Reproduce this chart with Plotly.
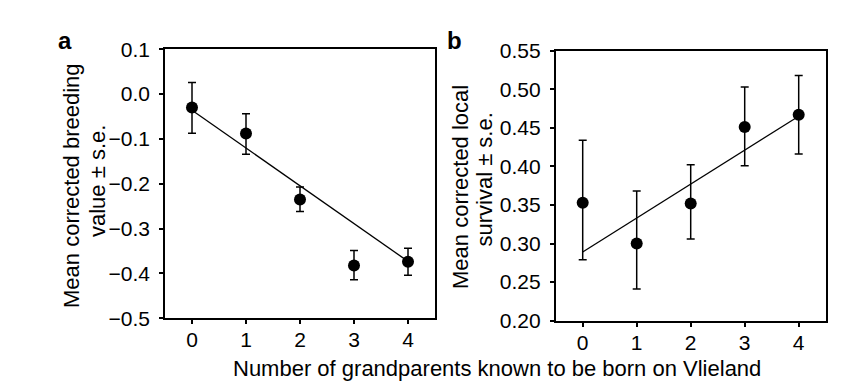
import plotly.graph_objects as go

# ---- data ----
grandparents = [0, 1, 2, 3, 4]
tick_vals_x = [0, 1, 2, 3, 4]

breeding_mean = [-0.030, -0.088, -0.235, -0.382, -0.374]
breeding_upper = [0.026, -0.044, -0.207, -0.349, -0.344]
breeding_lower = [-0.087, -0.134, -0.262, -0.414, -0.404]
breeding_fit_x = [0, 4]
breeding_fit_y = [-0.036, -0.373]
breeding_ticks = [0.1, 0.0, -0.1, -0.2, -0.3, -0.4, -0.5]

survival_mean = [0.353, 0.300, 0.352, 0.451, 0.467]
survival_upper = [0.434, 0.368, 0.402, 0.503, 0.518]
survival_lower = [0.279, 0.241, 0.306, 0.401, 0.416]
survival_fit_x = [0, 4]
survival_fit_y = [0.289, 0.465]
survival_ticks = [0.20, 0.25, 0.30, 0.35, 0.40, 0.45, 0.50, 0.55]

FONT = "Liberation Sans, Arial, Helvetica, sans-serif"
W, H = 846, 387

fig = go.Figure()

def add_panel(xa, ya, mean, up, lo, fx, fy):
    fig.add_trace(go.Scatter(x=fx, y=fy, mode="lines",
                             line=dict(color="black", width=1.3),
                             xaxis=xa, yaxis=ya, showlegend=False, hoverinfo="skip"))
    plus = [u - m for u, m in zip(up, mean)]
    minus = [m - l for m, l in zip(mean, lo)]
    fig.add_trace(go.Scatter(x=grandparents, y=mean, mode="markers",
                             marker=dict(color="black", size=12),
                             error_y=dict(type="data", array=plus, arrayminus=minus,
                                          symmetric=False, color="black",
                                          thickness=1.5, width=4),
                             xaxis=xa, yaxis=ya, showlegend=False))

add_panel("x", "y", breeding_mean, breeding_upper, breeding_lower, breeding_fit_x, breeding_fit_y)
add_panel("x2", "y2", survival_mean, survival_upper, survival_lower, survival_fit_x, survival_fit_y)

axis_common = dict(showline=True, mirror=True, linecolor="black", linewidth=1.6,
                   ticks="outside", ticklen=4, tickwidth=1.5, tickcolor="black",
                   showgrid=False, zeroline=False, automargin=False,
                   tickfont=dict(family=FONT, size=21, color="black"))

fig.update_layout(
    template="none",
    width=W, height=H, autosize=False,
    margin=dict(l=0, r=0, t=0, b=0, pad=0, autoexpand=False),
    paper_bgcolor="white", plot_bgcolor="white",
    showlegend=False,
    font=dict(family=FONT, color="black"),
    xaxis=dict(domain=[165 / W, 435 / W], range=[-0.5, 4.5], tickvals=tick_vals_x,
               anchor="y", ticklabelstandoff=-2, **axis_common),
    yaxis=dict(domain=[1 - 318.3 / H, 1 - 49.3 / H], range=[-0.5, 0.1],
               tickvals=breeding_ticks, tickformat=".1f", anchor="x",
               ticklabelstandoff=5, **axis_common),
    xaxis2=dict(domain=[555.7 / W, 825.7 / W], range=[-0.5, 4.5], tickvals=tick_vals_x,
                anchor="y2", ticklabelstandoff=-2, **axis_common),
    yaxis2=dict(domain=[1 - 320.7 / H, 1 - 50.7 / H], range=[0.20, 0.55],
                tickvals=survival_ticks, tickformat=".2f", anchor="x2",
                ticklabelstandoff=5, **axis_common),
)

ann = [
    dict(text="<b>a</b>", x=65, y=40, size=24),
    dict(text="<b>b</b>", x=454, y=40, size=24),
    dict(text="Mean corrected breeding", x=71, y=186, size=22, textangle=-90),
    dict(text="value ± s.e.", x=97, y=181, size=22, textangle=-90),
    dict(text="Mean corrected local", x=460, y=187, size=22, textangle=-90),
    dict(text="survival ± s.e.", x=484, y=179.5, size=22, textangle=-90),
    dict(text="Number of grandparents known to be born on Vlieland", x=496.5, y=368, size=22),
]
for a in ann:
    fig.add_annotation(xref="paper", yref="paper", showarrow=False,
                       xanchor="center", yanchor="middle",
                       x=a["x"] / W, y=1 - a["y"] / H, text=a["text"],
                       textangle=a.get("textangle", 0),
                       font=dict(family=FONT, size=a["size"], color="black"))

fig.write_html("out.html", config={"displayModeBar": False},
               post_script="document.body.style.margin='0';document.body.style.overflow='hidden';")
